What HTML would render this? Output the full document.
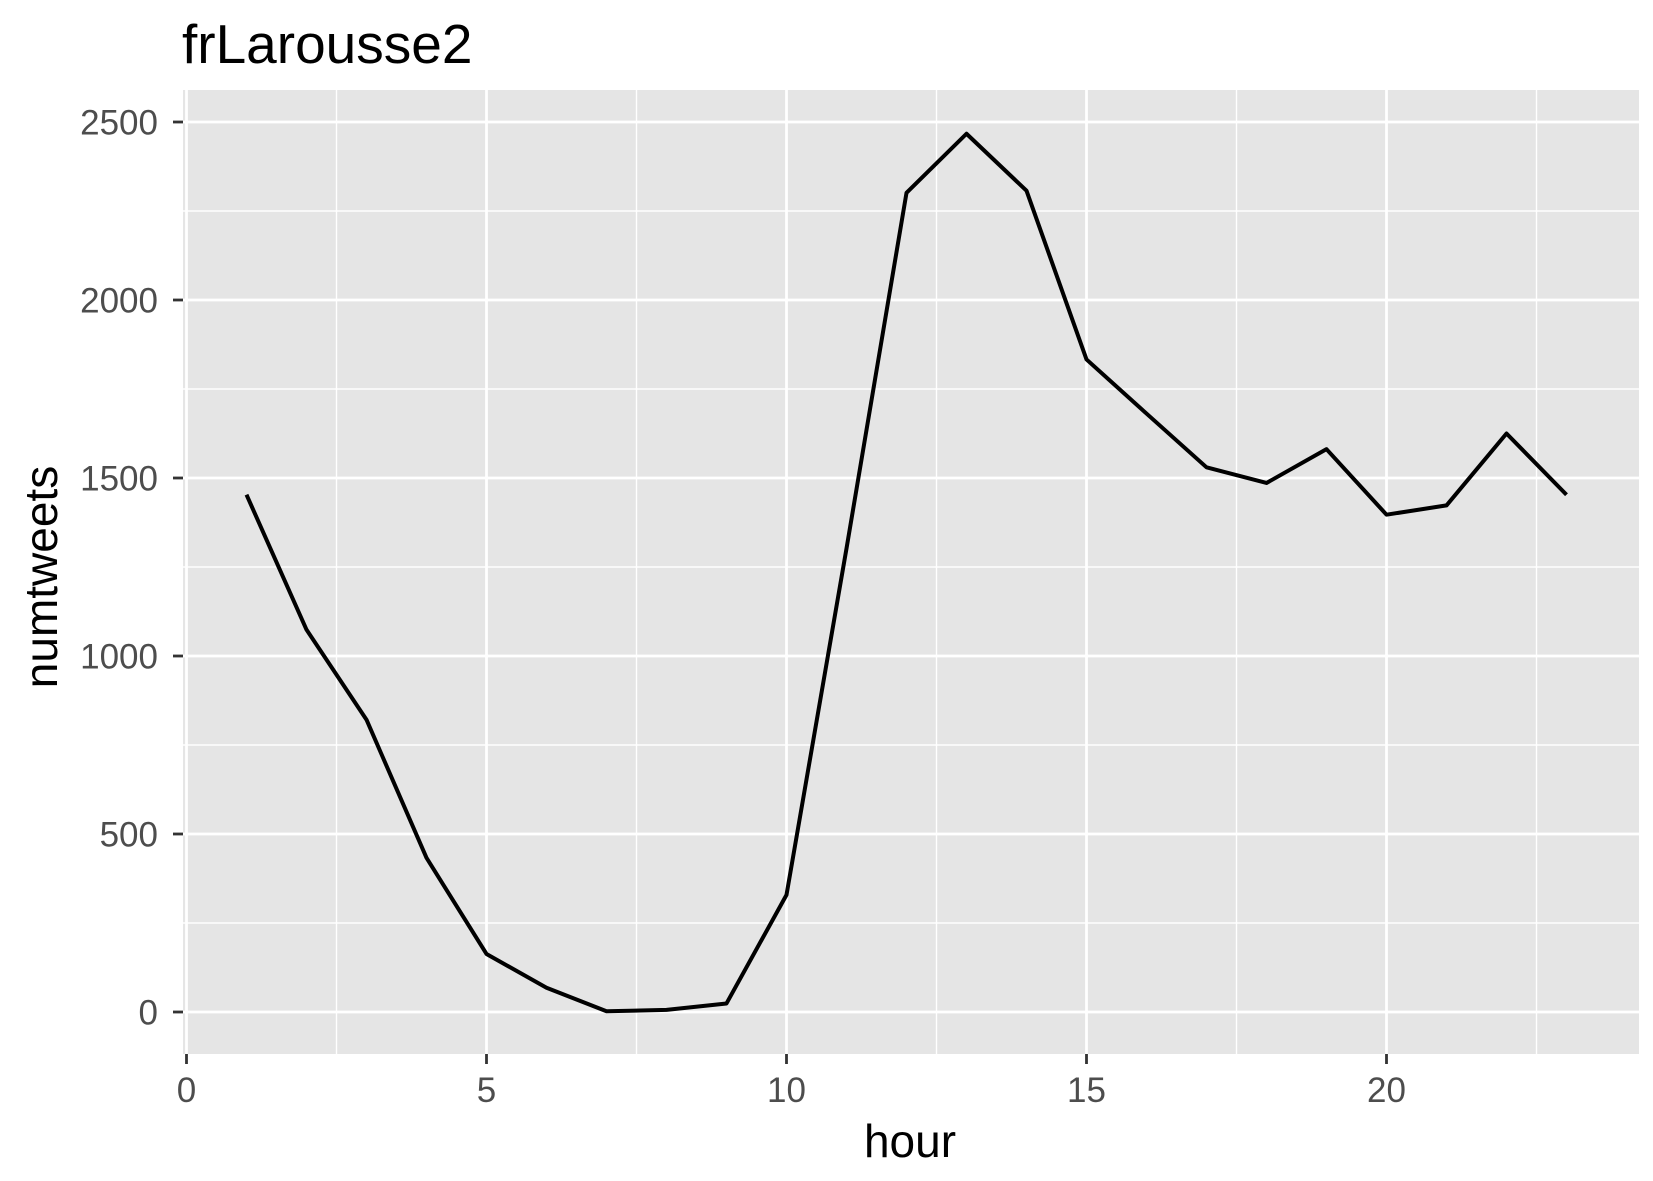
<!DOCTYPE html>
<html><head><meta charset="utf-8"><style>
body{margin:0;background:#fff}
svg{display:block;font-family:"Liberation Sans",Arial,sans-serif}
</style></head><body>
<svg id="chart" width="1653" height="1181">
<text x="182" y="63" font-size="55" fill="#000">frLarousse2</text>
<rect x="183" y="90" width="1456" height="964" fill="#e5e5e5"/>
<g id="grid"></g><g id="axes"></g><g id="series"></g>
<text x="910" y="1157" font-size="46" text-anchor="middle" fill="#000">hour</text>
<text transform="translate(57,577) rotate(-90)" font-size="46" text-anchor="middle" fill="#000">numtweets</text>
</svg>
<script>
const hours=[1,2,3,4,5,6,7,8,9,10,11,12,13,14,15,16,17,18,19,20,21,22,23];
const numtweets=[1453,1074,821,433,163,68,2,6,24,329,1302,2301,2467,2307,1833,1681,1530,1486,1581,1397,1423,1625,1453];
const xTicks=[0,5,10,15,20];
const yTicks=[0,500,1000,1500,2000,2500];
const xMinor=[2.5,7.5,12.5,17.5,22.5];
const yMinor=[250,750,1250,1750,2250];
const NS="http://www.w3.org/2000/svg";
const L=183,R=1639,T=90,B=1054;
const sx=v=>186.5+v*60.0;
const sy=v=>1012-v*0.356;
function mk(tag,attrs,parent){const e=document.createElementNS(NS,tag);for(const k in attrs)e.setAttribute(k,attrs[k]);parent.appendChild(e);return e;}
const grid=document.getElementById('grid'),axes=document.getElementById('axes'),series=document.getElementById('series');
xMinor.forEach(v=>{const e=mk('line',{x1:sx(v),x2:sx(v),y1:T,y2:B,stroke:'#fff','stroke-width':1.4},grid);

});
yMinor.forEach(v=>{const e=mk('line',{x1:L,x2:R,y1:sy(v),y2:sy(v),stroke:'#fff','stroke-width':1.4},grid);

});
xTicks.forEach(v=>{const e=mk('line',{x1:sx(v),x2:sx(v),y1:T,y2:B,stroke:'#fff','stroke-width':2.8},grid);


const t=mk('line',{x1:sx(v),x2:sx(v),y1:B,y2:B+10,stroke:'#333','stroke-width':2.8},axes);


const l=mk('text',{x:sx(v),y:1102,'font-size':35,'text-anchor':'middle',fill:'#4d4d4d'},axes);l.textContent=v;

});
yTicks.forEach(v=>{const e=mk('line',{x1:L,x2:R,y1:sy(v),y2:sy(v),stroke:'#fff','stroke-width':2.8},grid);


const t=mk('line',{x1:L-10,x2:L,y1:sy(v),y2:sy(v),stroke:'#333','stroke-width':2.8},axes);


const l=mk('text',{x:158,y:sy(v)+12.5,'font-size':35,'text-anchor':'end',fill:'#4d4d4d'},axes);l.textContent=v;

});
const p=mk('polyline',{points:hours.map((h,i)=>sx(h)+','+sy(numtweets[i])).join(' '),fill:'none',stroke:'#000','stroke-width':4,'stroke-linejoin':'round'},series);


</script>
</body></html>
